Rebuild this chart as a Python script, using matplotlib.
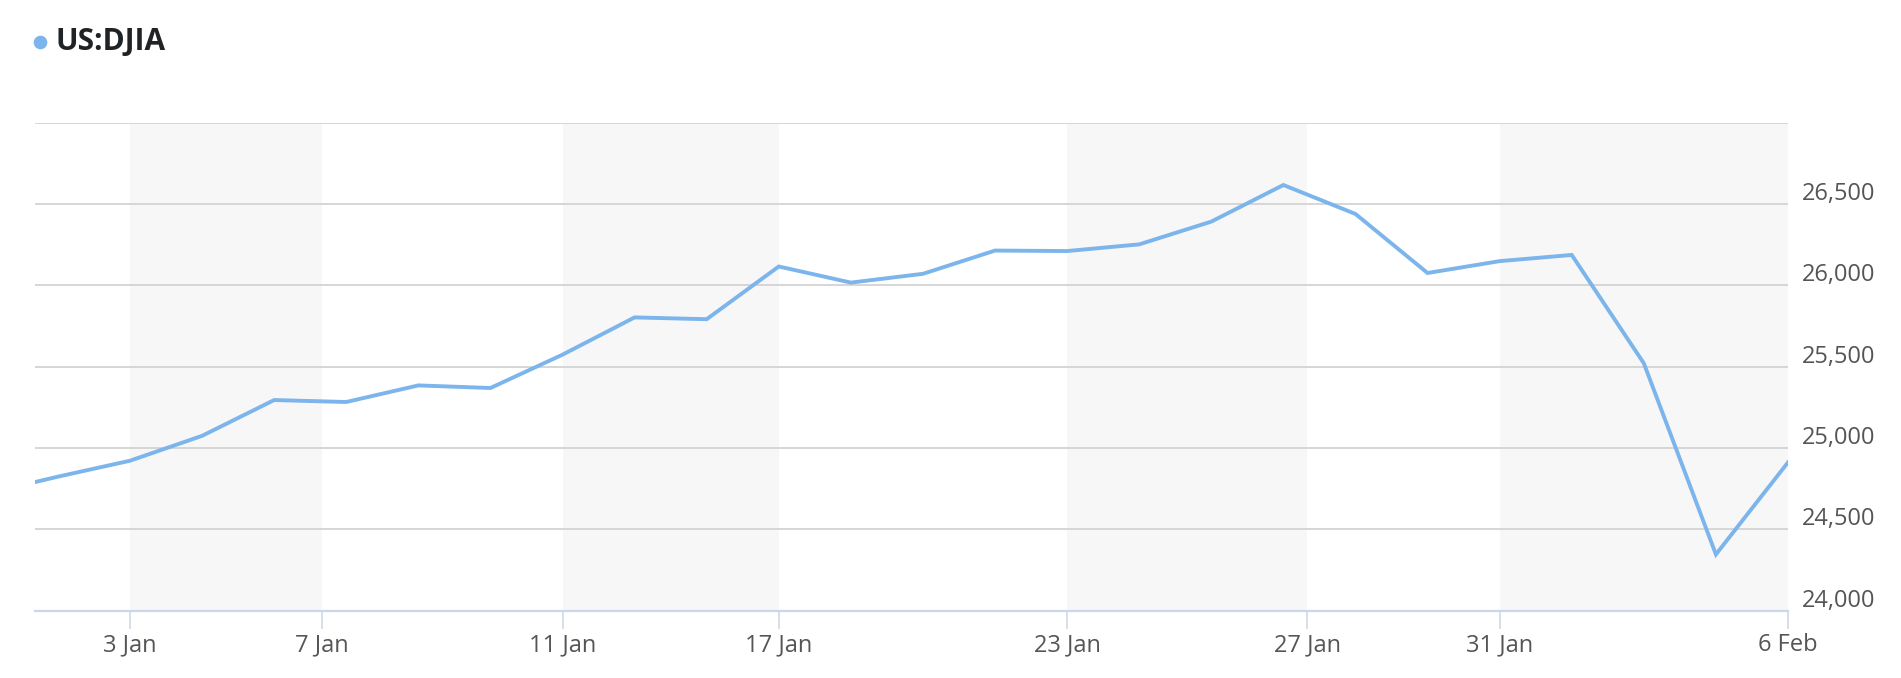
import numpy as np
import pandas as pd
import matplotlib
matplotlib.use("Agg")
import matplotlib.pyplot as plt
from matplotlib.lines import Line2D
from matplotlib.transforms import ScaledTranslation

# ---------------- data ----------------
dates = ["2017-12-29", "2018-01-02", "2018-01-03", "2018-01-04", "2018-01-05",
         "2018-01-08", "2018-01-09", "2018-01-10", "2018-01-11", "2018-01-12",
         "2018-01-16", "2018-01-17", "2018-01-18", "2018-01-19", "2018-01-22",
         "2018-01-23", "2018-01-24", "2018-01-25", "2018-01-26", "2018-01-29",
         "2018-01-30", "2018-01-31", "2018-02-01", "2018-02-02", "2018-02-05",
         "2018-02-06"]
djia = [24719, 24824, 24922, 25075, 25295,
        25283, 25385, 25369, 25574, 25803,
        25792, 26116, 26017, 26071, 26214,
        26211, 26252, 26392, 26617, 26439,
        26076, 26149, 26187, 25521, 24346,
        24912]
tick_dates = ["2018-01-03", "2018-01-07", "2018-01-11", "2018-01-17",
              "2018-01-23", "2018-01-27", "2018-01-31", "2018-02-06"]
tick_labels = ["3 Jan", "7 Jan", "11 Jan", "17 Jan", "23 Jan", "27 Jan", "31 Jan", "6 Feb"]
y_ticks = [24000, 24500, 25000, 25500, 26000, 26500, 27000]
y_labels = ["24,000", "24,500", "25,000", "25,500", "26,000", "26,500", ""]
series_name = "US:DJIA"

# ---------------- ordinal x axis (trading days) ----------------
d_num = pd.to_datetime(dates).values.astype("datetime64[D]").astype(float)
idx = np.arange(len(dates)) - 1.0          # 2 Jan -> 0
t_num = pd.to_datetime(tick_dates).values.astype("datetime64[D]").astype(float)
tick_pos = np.interp(t_num, d_num, idx)

W, H = 1901, 678
fig = plt.figure(figsize=(W / 100, H / 100), dpi=100)
fig.patch.set_facecolor("white")

left_px, right_px, top_px, bottom_px = 35.2, 1788, 122.7, 610.7
ax = fig.add_axes([left_px / W, (H - bottom_px) / H,
                   (right_px - left_px) / W, (bottom_px - top_px) / H])

line_color = "#7cb5ec"
font = ["Open Sans", "DejaVu Sans"]

ax.set_xlim(-0.315, idx[-1])
ax.set_ylim(24000, 27000)

# alternate bands
for a, b in zip(tick_pos[0::2], tick_pos[1::2]):
    ax.axvspan(a, b, color="#f7f7f7", zorder=0, lw=0)

ax.plot(idx, djia, color=line_color, lw=2.8, zorder=3, solid_joinstyle="miter",
        clip_on=True)

# grid
ax.set_yticks(y_ticks)
ax.yaxis.grid(True, color="#d6d6d6", lw=1.4)
ax.xaxis.grid(False)
ax.set_axisbelow(True)

for s in ["left", "right", "top"]:
    ax.spines[s].set_visible(False)
ax.spines["bottom"].set_color("#ccd6eb")
ax.spines["bottom"].set_linewidth(1.6)
ax.spines["bottom"].set_zorder(4)

ax.set_xticks(tick_pos)
ax.set_xticklabels(tick_labels, fontfamily=font, fontsize=17, color="#555555")
ax.tick_params(axis="x", length=13, width=1.1, color="#ccd6eb", pad=3)

ax.yaxis.tick_right()
ax.set_yticklabels(y_labels, fontfamily=font, fontsize=17, color="#555555")
ax.tick_params(axis="y", length=0, pad=10)
off = ScaledTranslation(0, 13 / 100, fig.dpi_scale_trans)
for lab in ax.get_yticklabels():
    lab.set_transform(lab.get_transform() + off)

# legend-like title
fig.add_artist(Line2D([40 / W], [(H - 41.7) / H], marker="o", ms=8.8,
                      color=line_color, lw=0, transform=fig.transFigure))
fig.text(55 / W, (H - 41.7) / H, series_name, fontfamily=font, fontsize=21.5,
         fontweight="bold", color="#1f2326", ha="left", va="center")

fig.savefig("out.png", dpi=100, facecolor="white")
